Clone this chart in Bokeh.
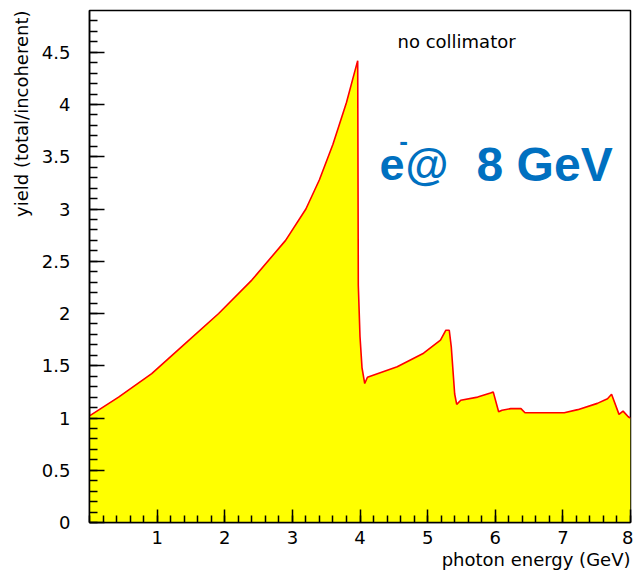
from bokeh.plotting import figure
from bokeh.models import Label, FixedTicker, Title
from bokeh.embed import file_html
from bokeh.resources import INLINE

# ---- data ----
energy = [0.0, 0.43, 0.92, 1.41, 1.91, 2.40, 2.90, 3.20, 3.40, 3.60, 3.80, 3.92, 3.966,
          3.975, 4.0, 4.03, 4.07, 4.11, 4.55, 4.94, 5.19, 5.27, 5.32, 5.35, 5.40, 5.43,
          5.49, 5.74, 5.93, 5.97, 6.05, 6.10, 6.23, 6.38, 6.44, 7.02, 7.22, 7.51, 7.66,
          7.72, 7.83, 7.89, 7.97, 8.0]
yield_ratio = [1.02, 1.20, 1.425, 1.71, 2.0, 2.32, 2.70, 3.00, 3.28, 3.62, 4.02, 4.31, 4.42,
               2.27, 1.78, 1.48, 1.33, 1.39, 1.49, 1.62, 1.745, 1.84, 1.84, 1.68, 1.23, 1.13,
               1.17, 1.20, 1.24, 1.25, 1.06, 1.075, 1.09, 1.09, 1.05, 1.05, 1.08, 1.14, 1.185,
               1.227, 1.035, 1.066, 1.01, 1.0]

x_major = [1, 2, 3, 4, 5, 6, 7, 8]
x_tick_labels = ["1", "2", "3", "4", "5", "6", "7", "8"]
y_major = [0, 0.5, 1, 1.5, 2, 2.5, 3, 3.5, 4, 4.5]
y_tick_labels = ["0", "0.5", "1", "1.5", "2", "2.5", "3", "3.5", "4", "4.5"]
x_minor = [i * 0.2 for i in range(0, 41)]
y_minor = [i * 0.1 for i in range(0, 49)]

x_title = "photon energy (GeV)"
y_title = "yield (total/incoherent)"
note_text = "no collimator"

FONT = "DejaVu Sans"

p = figure(width=633, height=573, x_range=(0, 8), y_range=(0, 4.9),
           output_backend="svg", toolbar_location=None,
           min_border_left=89, min_border_right=3, min_border_top=10, min_border_bottom=51)
p.background_fill_color = "white"
p.border_fill_color = "white"
p.xgrid.visible = False
p.ygrid.visible = False
p.outline_line_color = "black"
p.outline_line_width = 1.5

p.varea(x=energy, y1=[0] * len(energy), y2=yield_ratio, fill_color="#FFFF00")
p.line(energy, yield_ratio, line_color="#FF0000", line_width=1.6)

p.xaxis.ticker = FixedTicker(ticks=x_major, minor_ticks=x_minor)
p.yaxis.ticker = FixedTicker(ticks=y_major, minor_ticks=y_minor)
p.xaxis.major_label_overrides = {t: s for t, s in zip(x_major, x_tick_labels)}
p.yaxis.major_label_overrides = {t: s for t, s in zip(y_major, y_tick_labels)}

for ax in (p.xaxis, p.yaxis):
    ax.axis_line_color = "black"
    ax.axis_line_width = 1.5
    ax.major_tick_line_color = "black"
    ax.major_tick_line_width = 1.5
    ax.minor_tick_line_color = "black"
    ax.minor_tick_line_width = 1.5
    ax.major_tick_out = 0
    ax.minor_tick_out = 0
    ax.major_label_text_font = FONT
    ax.major_label_text_font_size = "18px"
    ax.major_label_text_color = "black"

p.xaxis.major_tick_in = 13
p.xaxis.minor_tick_in = 7
p.yaxis.major_tick_in = 15
p.yaxis.minor_tick_in = 8
p.xaxis.major_label_standoff = 8
p.yaxis.major_label_standoff = 19

# axis titles placed at the axis ends (ROOT style)
p.add_layout(Title(text=x_title, align="right", text_font=FONT, text_font_size="18px",
                   text_font_style="normal", text_color="black", standoff=0), "below")
p.add_layout(Title(text=y_title, align="right", text_font=FONT, text_font_size="18px",
                   text_font_style="normal", text_color="black", standoff=14), "left")

p.add_layout(Label(x=4.555, y=4.60, text=note_text, text_font=FONT, text_font_size="18px",
                   text_color="black", text_baseline="middle", text_align="left"))

BLUE = "#0070C0"
BIG = "Liberation Sans"
p.add_layout(Label(x=4.29, y=3.427, text="e", text_font=BIG, text_font_size="45px",
                   text_font_style="bold", text_color=BLUE, text_baseline="alphabetic"))
p.add_layout(Label(x=4.646, y=3.65, text="-", text_font=BIG, text_font_size="26px",
                   text_font_style="bold", text_color=BLUE, text_baseline="middle",
                   text_align="center"))
p.add_layout(Label(x=4.672, y=3.427, text="@", text_font=BIG, text_font_size="44px",
                   text_font_style="bold", text_color=BLUE, text_baseline="alphabetic"))
p.add_layout(Label(x=5.724, y=3.427, text="8 GeV", text_font=BIG, text_font_size="48px",
                   text_font_style="bold", text_color=BLUE, text_baseline="alphabetic"))

open("out.html", "w").write(file_html(p, INLINE))
